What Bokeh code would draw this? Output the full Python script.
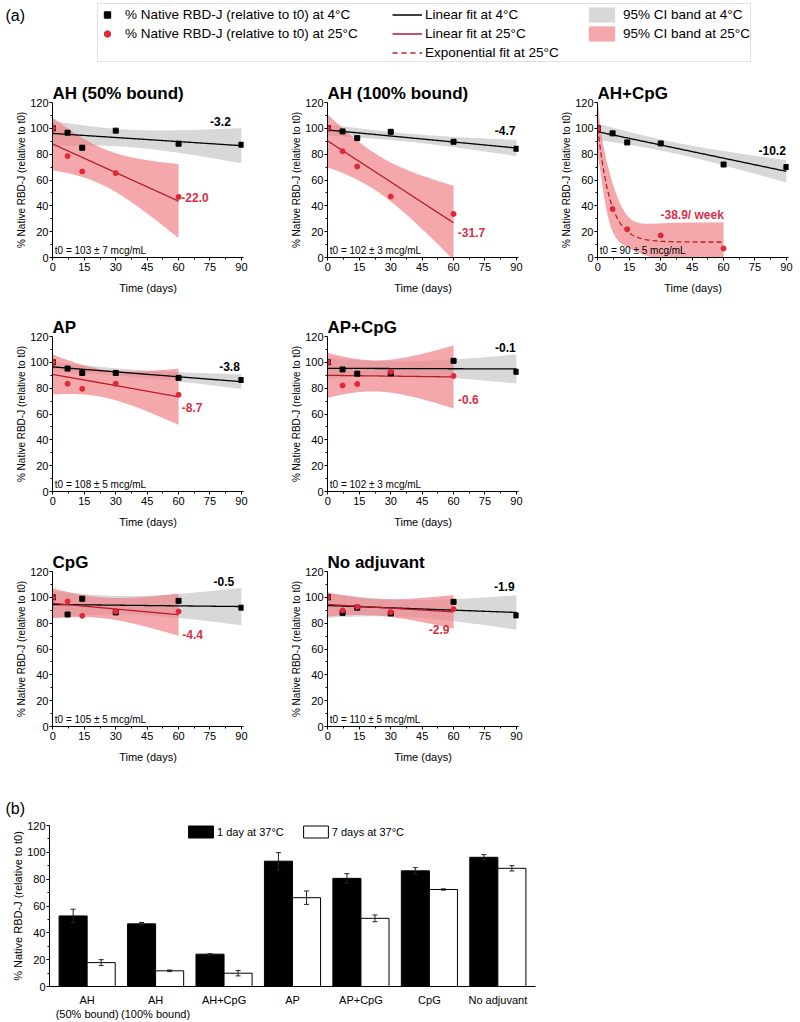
import numpy as np
from bokeh.plotting import figure
from bokeh.layouts import column, row
from bokeh.models import (Range1d, FixedTicker, Legend, LegendItem, Label,
                          ColumnDataSource, FactorRange, BoxAnnotation)
from bokeh.transform import dodge
from bokeh.embed import file_html
from bokeh.resources import INLINE

# ---------------------------------------------------------------- data
days_4C = [0, 7, 14, 30, 60, 90]
days_25C = [0, 7, 14, 30, 60]

ah50_4C = [100, 96.6, 85.0, 98.2, 88.1, 87.3]
ah50_25C = [100, 78.5, 66.6, 65.3, 46.9]
ah100_4C = [100, 97.6, 92.4, 97.3, 89.6, 84.2]
ah100_25C = [100, 82.3, 70.4, 47.2, 33.7]
ahcpg_4C = [100, 96.1, 89.1, 88.3, 72.0, 70.0]
ahcpg_25C = [100, 37.6, 21.8, 17.1, 7.0]
ap_4C = [100, 95.2, 91.8, 91.8, 88.0, 86.3]
ap_25C = [100, 83.4, 79.5, 83.4, 74.9]
apcpg_4C = [100, 94.5, 91.2, 91.5, 101.2, 92.7]
apcpg_25C = [100, 82.1, 83.2, 92.7, 89.4]
cpg_4C = [100, 86.7, 98.9, 88.3, 97.3, 92.0]
cpg_25C = [100, 96.8, 85.7, 89.0, 89.0]
noadj_4C = [100, 88.0, 92.0, 87.5, 96.5, 86.0]
noadj_25C = [100, 89.8, 92.6, 88.5, 90.9]

panel_titles = ["AH (50% bound)", "AH (100% bound)", "AH+CpG", "AP", "AP+CpG",
                "CpG", "No adjuvant"]
t0_labels = ["t0 = 103 \u00b1 7 mcg/mL", "t0 = 102 \u00b1 3 mcg/mL", "t0 = 90 \u00b1 5 mcg/mL",
             "t0 = 108 \u00b1 5 mcg/mL", "t0 = 102 \u00b1 3 mcg/mL", "t0 = 105 \u00b1 5 mcg/mL",
             "t0 = 110 \u00b1 5 mcg/mL"]
slope_4C_labels = ["-3.2", "-4.7", "-10.2", "-3.8", "-0.1", "-0.5", "-1.9"]
slope_25C_labels = ["-22.0", "-31.7", "-38.9/ week", "-8.7", "-0.6", "-4.4", "-2.9"]
fit_25C_type = ["linear", "linear", "exponential", "linear", "linear", "linear", "linear"]

x_ticks = [0, 15, 30, 45, 60, 75, 90]
x_minor_ticks = [7.5, 22.5, 37.5, 52.5, 67.5, 82.5]
y_ticks = [0, 20, 40, 60, 80, 100, 120]
y_minor_ticks = [10, 30, 50, 70, 90, 110]

bar_categories = ["AH\n(50% bound)", "AH\n(100% bound)", "AH+CpG", "AP", "AP+CpG",
                  "CpG", "No adjuvant"]
day1_37C = [52.6, 46.7, 24.1, 93.4, 80.6, 86.2, 96.3]
day1_37C_err = [5.0, 1.0, 0.4, 6.4, 3.5, 2.4, 2.0]
day7_37C = [17.8, 11.7, 9.9, 66.2, 50.8, 72.3, 88.1]
day7_37C_err = [2.2, 0.6, 2.0, 5.0, 2.5, 0.5, 2.0]

values_4C = [ah50_4C, ah100_4C, ahcpg_4C, ap_4C, apcpg_4C, cpg_4C, noadj_4C]
values_25C = [ah50_25C, ah100_25C, ahcpg_25C, ap_25C, apcpg_25C, cpg_25C, noadj_25C]

# two-sided 95% t quantiles by degrees of freedom
T95 = {2: 4.303, 3: 3.182, 4: 2.776}

# ---------------------------------------------------------------- style
FONT = "Liberation Sans"
BLACK = "#000000"
RED_PT = "#e0283a"
RED_LINE = "#b51d2c"
RED_TXT = "#d62f48"
GRAY_BAND = "#d8d8d8"
PINK_BAND = "#f07f84"

# label placement (data coords) per panel: (x, y, align)
LAB4_POS = [(80, 105, "center"), (84.6, 98, "center"), (83.2, 83, "center"),
            (84.3, 97, "center"), (84.7, 111.5, "center"), (81.6, 112, "center"),
            (84.2, 108.2, "center")]
LAB25_POS = [(61.3, 46.2, "left"), (62, 19.5, "left"), (45, 33.2, "center"),
             (61.5, 64.8, "left"), (62.1, 71.6, "left"), (61.8, 71.5, "left"),
             (58, 75, "right")]

COL_W = [270, 270, 260]
COL_BL = [52, 57, 57]
COL_BR = [27, 22, 12]
ROW_H = [234, 235, 234]

BAR_BL = 49
BAR_BR = 12
BAR_W = 547


def lin_fit_band(x, y, t):
    x = np.asarray(x, float)
    y = np.asarray(y, float)
    n = len(x)
    slope, icpt = np.polyfit(x, y, 1)
    xs = np.linspace(0, x.max(), 181)
    f = icpt + slope * xs
    res = y - (icpt + slope * x)
    s = np.sqrt(np.sum(res ** 2) / (n - 2))
    sxx = np.sum((x - x.mean()) ** 2)
    se = s * np.sqrt(1.0 / n + (xs - x.mean()) ** 2 / sxx)
    return xs, f, f - t * se, f + t * se


def exp_fit_band(x, y, t):
    x = np.asarray(x, float)
    y = np.asarray(y, float)
    n = len(x)
    best = None
    for k in np.linspace(0.005, 2.0, 4000):
        e = np.exp(-k * x)
        A = np.column_stack([np.ones_like(x), e])
        coef, *_ = np.linalg.lstsq(A, y, rcond=None)
        sse = float(np.sum((A @ coef - y) ** 2))
        if best is None or sse < best[0]:
            best = (sse, k, coef)
    sse, k, (y0, a) = best
    s2 = sse / (n - 3)
    J = np.column_stack([np.ones_like(x), np.exp(-k * x), -a * x * np.exp(-k * x)])
    cov = s2 * np.linalg.inv(J.T @ J)
    xs = np.linspace(0, x.max(), 241)
    G = np.column_stack([np.ones_like(xs), np.exp(-k * xs), -a * xs * np.exp(-k * xs)])
    f = y0 + a * np.exp(-k * xs)
    se = np.sqrt(np.einsum("ij,jk,ik->i", G, cov, G))
    return xs, f, f - t * se, f + t * se


def style_axes(p, ylab_size="10px"):
    for ax in p.axis:
        ax.axis_line_color = BLACK
        ax.major_tick_line_color = BLACK
        ax.minor_tick_line_color = BLACK
        ax.major_tick_in = 0
        ax.major_tick_out = 3
        ax.minor_tick_in = 0
        ax.minor_tick_out = 2
        ax.major_label_text_font = FONT
        ax.major_label_text_font_size = "11px"
        ax.major_label_text_color = BLACK
        ax.axis_label_text_font = FONT
        ax.axis_label_text_font_style = "normal"
        ax.axis_label_text_color = BLACK
        ax.major_label_standoff = 2
    p.xaxis.axis_label_text_font_size = "11px"
    p.yaxis.axis_label_text_font_size = ylab_size
    p.xaxis.axis_label_standoff = 8
    p.yaxis.major_label_standoff = 1
    p.yaxis.axis_label_standoff = 0
    p.grid.visible = False
    p.outline_line_color = None


def make_panel(i, col, h):
    p = figure(width=COL_W[col], height=h,
               x_range=Range1d(-0.2, 91.0), y_range=Range1d(0, 120),
               min_border_left=COL_BL[col], min_border_right=COL_BR[col],
               min_border_top=34, min_border_bottom=h - 34 - 155,
               output_backend="svg", toolbar_location=None,
               x_axis_label="Time (days)",
               y_axis_label="% Native RBD-J (relative to t0)",
               title=panel_titles[i])
    p.title.text_font = FONT
    p.title.text_font_size = "17px"
    p.title.text_font_style = "bold"
    p.title.text_color = BLACK
    p.title.align = "left"
    p.title.standoff = 0
    p.title.offset = 0
    style_axes(p)
    p.xaxis.ticker = FixedTicker(ticks=x_ticks, minor_ticks=x_minor_ticks)
    p.yaxis.ticker = FixedTicker(ticks=y_ticks, minor_ticks=y_minor_ticks)

    xs4, f4, lo4, hi4 = lin_fit_band(days_4C, values_4C[i], T95[4])
    if fit_25C_type[i] == "linear":
        xs25, f25, lo25, hi25 = lin_fit_band(days_25C, values_25C[i], T95[3])
        dash = "solid"
    else:
        xs25, f25, lo25, hi25 = exp_fit_band(days_25C, values_25C[i], T95[2])
        dash = "5 3"

    p.varea(x=xs4, y1=lo4, y2=hi4, fill_color=GRAY_BAND, fill_alpha=1.0)
    p.varea(x=xs25, y1=lo25, y2=hi25, fill_color=PINK_BAND, fill_alpha=0.68)
    p.line(xs4, f4, line_color=BLACK, line_width=1.3)
    p.line(xs25, f25, line_color=RED_LINE, line_width=1.3, line_dash=dash)
    p.scatter(days_4C, values_4C[i], marker="square", size=5, color=BLACK)
    p.scatter(days_25C, values_25C[i], marker="circle", size=5, color=RED_PT)

    bx, by, ba = LAB4_POS[i]
    p.add_layout(Label(x=bx, y=by, text=slope_4C_labels[i], text_font=FONT,
                       text_font_size="12px", text_font_style="bold",
                       text_color=BLACK, text_align=ba, text_baseline="middle"))
    rx, ry, ra = LAB25_POS[i]
    p.add_layout(Label(x=rx, y=ry, text=slope_25C_labels[i], text_font=FONT,
                       text_font_size="12px", text_font_style="bold",
                       text_color=RED_TXT, text_align=ra, text_baseline="middle"))
    p.add_layout(Label(x=0.9, y=1.2, text=t0_labels[i], text_font=FONT,
                       text_font_size="10px", text_color=BLACK,
                       text_align="left", text_baseline="bottom"))
    return p


# ---------------------------------------------------------------- header legend
HDR_H = 68
hdr = figure(width=800, height=HDR_H,
             x_range=Range1d(0, 800), y_range=Range1d(HDR_H, 0),
             min_border_left=0, min_border_right=0,
             min_border_top=0, min_border_bottom=0,
             x_axis_location=None, y_axis_location=None,
             output_backend="svg", toolbar_location=None)
hdr.grid.visible = False
hdr.outline_line_color = None

OFF_X = [-500]
OFF_Y = [-500]
r_sq = hdr.scatter(x=OFF_X, y=OFF_Y, marker="square", color=BLACK)
r_ci = hdr.scatter(x=OFF_X, y=OFF_Y, marker="circle", color=RED_PT)
r_lb = hdr.line(x=OFF_X, y=OFF_Y, line_color=BLACK, line_width=1.5)
r_lr = hdr.line(x=OFF_X, y=OFF_Y, line_color=RED_LINE, line_width=1.5)
r_ld = hdr.line(x=OFF_X, y=OFF_Y, line_color=RED_LINE, line_width=1.5, line_dash="5 4")
r_gb = hdr.quad(left=OFF_X, right=OFF_X, top=OFF_Y, bottom=OFF_Y,
                fill_color=GRAY_BAND, line_color=None)
r_pb = hdr.quad(left=OFF_X, right=OFF_X, top=OFF_Y, bottom=OFF_Y,
                fill_color=PINK_BAND, fill_alpha=0.68, line_color=None)

hdr.add_layout(BoxAnnotation(left=97, right=750, top=3, bottom=61,
                             fill_alpha=0, line_color="#9a9a9a", line_width=1))


def hdr_legend(items, loc, gw, standoff):
    leg = Legend(items=items, location=loc, orientation="vertical",
                 padding=0, margin=0, spacing=0, border_line_color=None,
                 background_fill_alpha=0, glyph_width=gw, glyph_height=19,
                 label_height=19, label_standoff=standoff,
                 label_text_font=FONT, label_text_font_size="13.5px",
                 label_text_color=BLACK)
    hdr.add_layout(leg)


hdr_legend([LegendItem(label="% Native RBD-J (relative to t0) at 4\u00b0C", renderers=[r_sq]),
            LegendItem(label="% Native RBD-J (relative to t0) at 25\u00b0C", renderers=[r_ci])],
           (99, 25.5), 16, 10)
hdr_legend([LegendItem(label="Linear fit at 4\u00b0C", renderers=[r_lb]),
            LegendItem(label="Linear fit at 25\u00b0C", renderers=[r_lr]),
            LegendItem(label="Exponential fit at 25\u00b0C", renderers=[r_ld])],
           (392, 6.5), 30, 3)
hdr_legend([LegendItem(label="95% CI band at 4\u00b0C", renderers=[r_gb]),
            LegendItem(label="95% CI band at 25\u00b0C", renderers=[r_pb])],
           (585, 25.5), 33, 5)
hdr.add_layout(Label(x=5, y=15, text="(a)", text_font=FONT, text_font_size="16px",
                     text_color=BLACK, text_baseline="middle", text_align="left"))

# ---------------------------------------------------------------- panels
cols = [0, 1, 2, 0, 1, 0, 1]
rows_of = [0, 0, 0, 1, 1, 2, 2]
panels = [make_panel(i, cols[i], ROW_H[rows_of[i]]) for i in range(7)]

# ---------------------------------------------------------------- bar chart
src = ColumnDataSource(dict(
    cat=bar_categories,
    d1=day1_37C, d1_lo=np.subtract(day1_37C, day1_37C_err), d1_hi=np.add(day1_37C, day1_37C_err),
    d7=day7_37C, d7_lo=np.subtract(day7_37C, day7_37C_err), d7_hi=np.add(day7_37C, day7_37C_err),
))

BAR_H = 251
pb = figure(width=BAR_W, height=BAR_H,
            x_range=FactorRange(factors=bar_categories, range_padding=0.1 / 7),
            y_range=Range1d(0, 120),
            min_border_left=BAR_BL, min_border_right=BAR_BR,
            min_border_top=54, min_border_bottom=BAR_H - 54 - 164,
            output_backend="svg", toolbar_location=None,
            y_axis_label="% Native RBD-J (relative to t0)")
style_axes(pb, ylab_size="11px")
pb.yaxis.ticker = FixedTicker(ticks=y_ticks, minor_ticks=y_minor_ticks)
pb.xaxis.major_tick_line_color = None
pb.xaxis.minor_tick_line_color = None
pb.xaxis.major_label_standoff = 4
pb.yaxis.axis_label_standoff = 0
pb.title.text = "(b)"
pb.title.text_font = FONT
pb.title.text_font_size = "16px"
pb.title.text_font_style = "normal"
pb.title.text_color = BLACK
pb.title.align = "left"
pb.title.offset = -44
pb.title.standoff = 17

OFF = 0.205
b1 = pb.vbar(x=dodge("cat", -OFF, range=pb.x_range), top="d1", width=0.41, source=src,
             fill_color=BLACK, line_color=BLACK, line_width=1)
b7 = pb.vbar(x=dodge("cat", OFF, range=pb.x_range), top="d7", width=0.41, source=src,
             fill_color="white", line_color=BLACK, line_width=1)
for off, lo, hi in [(-OFF, "d1_lo", "d1_hi"), (OFF, "d7_lo", "d7_hi")]:
    xd = dodge("cat", off, range=pb.x_range)
    pb.segment(x0=xd, y0=lo, x1=xd, y1=hi, source=src, line_color="#222222", line_width=1)
    pb.scatter(x=xd, y=hi, source=src, marker="dash", size=5, line_color="#222222", line_width=1)
    pb.scatter(x=xd, y=lo, source=src, marker="dash", size=5, line_color="#222222", line_width=1)

pb.add_layout(Legend(items=[LegendItem(label="1 day at 37\u00b0C", renderers=[b1]),
                            LegendItem(label="7 days at 37\u00b0C", renderers=[b7])],
                     location=(185 - BAR_BL, 164 - 17), orientation="horizontal",
                     padding=0, margin=0, spacing=16, border_line_color=None,
                     background_fill_alpha=0, glyph_width=31, glyph_height=15,
                     label_height=15, label_standoff=1,
                     label_text_font=FONT, label_text_font_size="11px",
                     label_text_color=BLACK))

layout = column(row(hdr),
                row(panels[0], panels[1], panels[2]),
                row(panels[3], panels[4]),
                row(panels[5], panels[6]),
                row(pb))

open("out.html", "w").write(file_html(layout, INLINE))
